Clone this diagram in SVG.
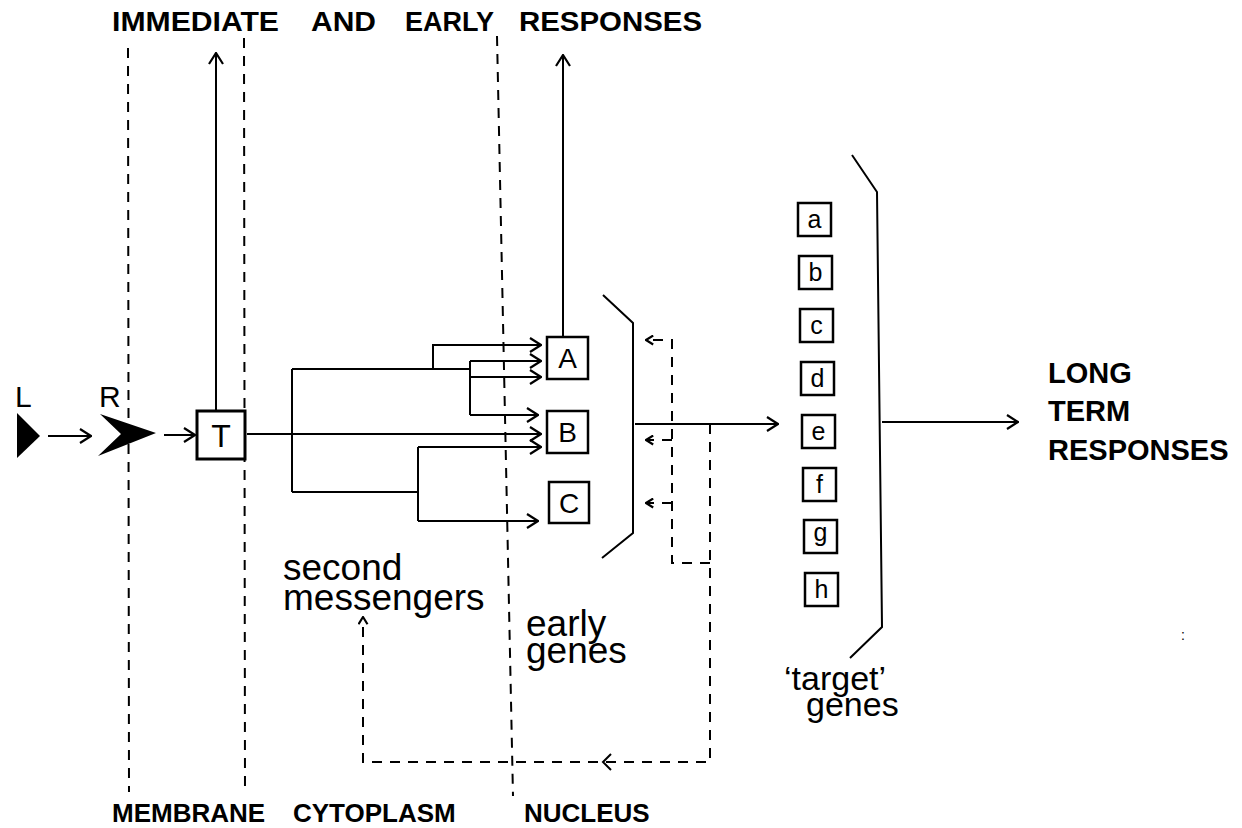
<svg xmlns="http://www.w3.org/2000/svg" width="1242" height="828" viewBox="0 0 1242 828">
  <defs>
    <style>
      .ln { fill: none; stroke: #000; stroke-width: 2; }
      .dash { fill: none; stroke: #000; stroke-width: 2; stroke-dasharray: 10 8; }
      .box { fill: #fff; stroke: #000; stroke-width: 2.5; }
      .cap { font-family: "Liberation Sans", Arial, sans-serif; font-weight: bold; fill: #000; }
      .lbl { font-family: "Liberation Sans", Arial, sans-serif; fill: #000; }
    </style>
    <marker id="arr" viewBox="0 0 13 16" refX="12" refY="8" markerWidth="13" markerHeight="16" markerUnits="userSpaceOnUse" orient="auto">
      <path d="M1,1 L12,8 L1,15" fill="none" stroke="#000" stroke-width="2.2"/>
    </marker>
    <marker id="arrs" viewBox="0 0 10 12" refX="9" refY="6" markerWidth="9" markerHeight="11" markerUnits="userSpaceOnUse" orient="auto">
      <path d="M1,1 L9,6 L1,11" fill="none" stroke="#000" stroke-width="2.4"/>
    </marker>
  </defs>
  <rect width="1242" height="828" fill="#fff"/>

  <!-- compartment boundaries -->
  <g id="boundaries">
    <line class="dash" x1="128" y1="48" x2="129" y2="792"/>
    <line class="dash" x1="244" y1="38" x2="245" y2="792"/>
    <line class="dash" x1="497" y1="36" x2="513" y2="796"/>
  </g>

  <!-- headings -->
  <g id="headings" class="cap" font-size="27">
    <text x="112" y="31" textLength="167" lengthAdjust="spacingAndGlyphs">IMMEDIATE</text>
    <text x="311" y="31" textLength="65" lengthAdjust="spacingAndGlyphs">AND</text>
    <text x="405" y="31" textLength="89" lengthAdjust="spacingAndGlyphs">EARLY</text>
    <text x="519" y="31" textLength="183" lengthAdjust="spacingAndGlyphs">RESPONSES</text>
  </g>
  <g id="compartments" class="cap" font-size="26">
    <text x="112" y="822">MEMBRANE</text>
    <text x="293" y="822">CYTOPLASM</text>
    <text x="524" y="822">NUCLEUS</text>
  </g>

  <!-- ligand and receptor -->
  <g id="ligand">
    <text class="lbl" x="15" y="407" font-size="30">L</text>
    <polygon points="17,413 40,436 17,458" fill="#000"/>
  </g>
  <g id="receptor">
    <text class="lbl" x="99" y="407" font-size="30">R</text>
    <polygon points="100,414 156,433 98,456 121,434" fill="#000"/>
  </g>

  <!-- transducer -->
  <g id="transducer">
    <rect x="197" y="411" width="48" height="48" fill="#fff" stroke="#000" stroke-width="3"/>
    <text class="lbl" x="221" y="447" font-size="32" text-anchor="middle">T</text>
  </g>

  <!-- early genes -->
  <g id="gene-A">
    <rect class="box" x="547" y="337" width="41" height="42"/>
    <text class="lbl" x="567.5" y="368" font-size="28" text-anchor="middle">A</text>
  </g>
  <g id="gene-B">
    <rect class="box" x="547" y="411" width="41" height="42"/>
    <text class="lbl" x="567.5" y="442" font-size="28" text-anchor="middle">B</text>
  </g>
  <g id="gene-C">
    <rect class="box" x="549" y="482" width="40" height="41"/>
    <text class="lbl" x="569" y="513" font-size="28" text-anchor="middle">C</text>
  </g>
  <g id="early-bracket">
    <polyline class="ln" points="603,295 633,323 633,533 602,558"/>
  </g>

  <!-- target genes -->
  <g id="target-genes" class="lbl" font-size="25" text-anchor="middle">
    <rect class="box" x="798" y="203" width="33" height="33"/><text x="814.5" y="228">a</text>
    <rect class="box" x="799" y="256" width="33" height="33"/><text x="815.5" y="281">b</text>
    <rect class="box" x="800" y="309" width="33" height="33"/><text x="816.5" y="334">c</text>
    <rect class="box" x="801" y="362" width="33" height="33"/><text x="817.5" y="387">d</text>
    <rect class="box" x="802" y="415" width="33" height="33"/><text x="818.5" y="440">e</text>
    <rect class="box" x="803" y="468" width="33" height="33"/><text x="819.5" y="493">f</text>
    <rect class="box" x="804" y="520" width="33" height="33"/><text x="820.5" y="541">g</text>
    <rect class="box" x="805" y="573" width="33" height="33"/><text x="821.5" y="598">h</text>
  </g>
  <g id="target-bracket">
    <polyline class="ln" points="852,155 877,192 882,627 850,658"/>
  </g>

  <!-- labels -->
  <g id="label-second-messengers" class="lbl" font-size="37">
    <text x="283" y="580">second</text>
    <text x="283" y="610">messengers</text>
  </g>
  <g id="label-early-genes" class="lbl" font-size="37">
    <text x="526" y="636">early</text>
    <text x="526" y="663">genes</text>
  </g>
  <g id="label-target-genes" class="lbl" font-size="34">
    <text x="784" y="690">‘target’</text>
    <text x="806" y="716">genes</text>
  </g>
  <g id="label-long-term" class="cap" font-size="29">
    <text x="1048" y="383">LONG</text>
    <text x="1048" y="421">TERM</text>
    <text x="1048" y="460">RESPONSES</text>
  </g>
  <text class="lbl" x="1181" y="640" font-size="14">:</text>

  <!-- connectors -->
  <g id="connectors">
    <path class="ln" d="M48,436 H91" marker-end="url(#arr)"/>
    <path class="ln" d="M164,435 H195" marker-end="url(#arr)"/>
    <path class="ln" d="M216,411 V53" marker-end="url(#arr)"/>
    <path class="ln" d="M563,337 V55" marker-end="url(#arr)"/>

    <path class="ln" d="M247,434 H541" marker-end="url(#arr)"/>
    <path class="ln" d="M292,369 V492"/>
    <path class="ln" d="M292,369 H470"/>
    <path class="ln" d="M433,369 V345 H541" marker-end="url(#arr)"/>
    <path class="ln" d="M470,361 V415"/>
    <path class="ln" d="M470,361 H541" marker-end="url(#arr)"/>
    <path class="ln" d="M470,377 H541" marker-end="url(#arr)"/>
    <path class="ln" d="M470,415 H538" marker-end="url(#arr)"/>
    <path class="ln" d="M292,492 H418"/>
    <path class="ln" d="M418,447 V521"/>
    <path class="ln" d="M418,447 H541" marker-end="url(#arr)"/>
    <path class="ln" d="M418,521 H538" marker-end="url(#arr)"/>

    <path class="ln" d="M635,424 H778" marker-end="url(#arr)"/>
    <path class="ln" d="M882,422 H1018" marker-end="url(#arr)"/>

    <path class="dash" d="M710,424 V762 H363 V617" marker-end="url(#arrs)"/>
    <path class="ln" d="M611,754 L603,762 L611,770"/>
    <path class="dash" d="M710,563 H672 V340 H646" marker-end="url(#arrs)"/>
    <path class="dash" d="M672,440 H646" marker-end="url(#arrs)"/>
    <path class="dash" d="M672,503 H646" marker-end="url(#arrs)"/>
  </g>
</svg>
